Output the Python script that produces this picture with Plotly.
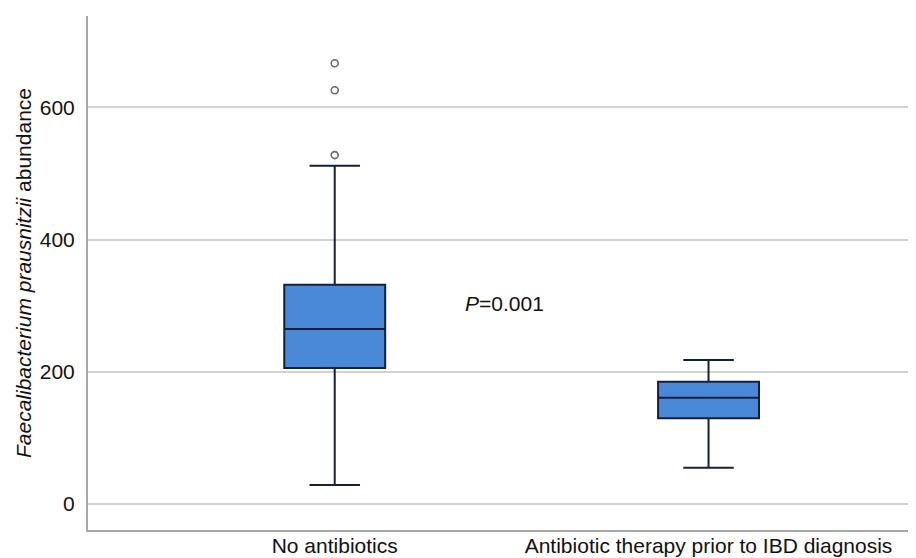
import plotly.graph_objects as go

# Box plot summary values
groups = ["No antibiotics", "Antibiotic therapy prior to IBD diagnosis"]
q1 = [206, 130]
median = [265, 161]
q3 = [332, 185]
lower_whisker = [29, 55]
upper_whisker = [512, 218]

# Outliers (only the first group has any)
outlier_group = ["No antibiotics", "No antibiotics", "No antibiotics"]
outlier_values = [667, 626, 528]

y_ticks = [0, 200, 400, 600]

font_family = "Arial, Liberation Sans, sans-serif"

fig = go.Figure()

fig.add_trace(go.Box(
    x=groups,
    q1=q1,
    median=median,
    q3=q3,
    lowerfence=lower_whisker,
    upperfence=upper_whisker,
    width=0.27,
    whiskerwidth=0.5,
    fillcolor="#4a88d8",
    line=dict(color="#17203a", width=2),
    boxpoints=False,
    showlegend=False,
    hoverinfo="skip",
))

fig.add_trace(go.Scatter(
    x=outlier_group,
    y=outlier_values,
    mode="markers",
    marker=dict(symbol="circle-open", size=7, color="#6a6a6a", line=dict(width=1.6)),
    showlegend=False,
    hoverinfo="skip",
))

fig.add_annotation(
    x=0.343, y=304, xref="x", yref="y",
    text="<i>P</i>=0.001",
    showarrow=False, xanchor="left", yanchor="middle",
    font=dict(size=21, color="#111111", family=font_family),
)

# page body adds an 8px offset, so margins are shifted to compensate
fig.update_layout(
    width=916,
    height=558,
    margin=dict(l=80, r=8, t=8, b=36),
    paper_bgcolor="white",
    plot_bgcolor="white",
    font=dict(family=font_family, size=21, color="#111111"),
    xaxis=dict(
        type="category",
        range=[-0.66, 1.555],
        showgrid=False,
        showline=True,
        linecolor="#a8a8a8",
        linewidth=2,
        ticks="",
        automargin=False,
        ticklabelstandoff=-4,
    ),
    yaxis=dict(
        range=[-39.2, 738.4],
        tickvals=y_ticks,
        showgrid=True,
        gridcolor="#d2d2d2",
        gridwidth=2,
        zeroline=False,
        showline=True,
        linecolor="#a8a8a8",
        linewidth=2,
        ticks="",
        automargin=False,
        ticklabelstandoff=7,
        title=dict(
            text="<i>Faecalibacterium prausnitzii</i> abundance",
            font=dict(size=21, family=font_family),
            standoff=2,
        ),
    ),
)

fig.write_html("out.html")
